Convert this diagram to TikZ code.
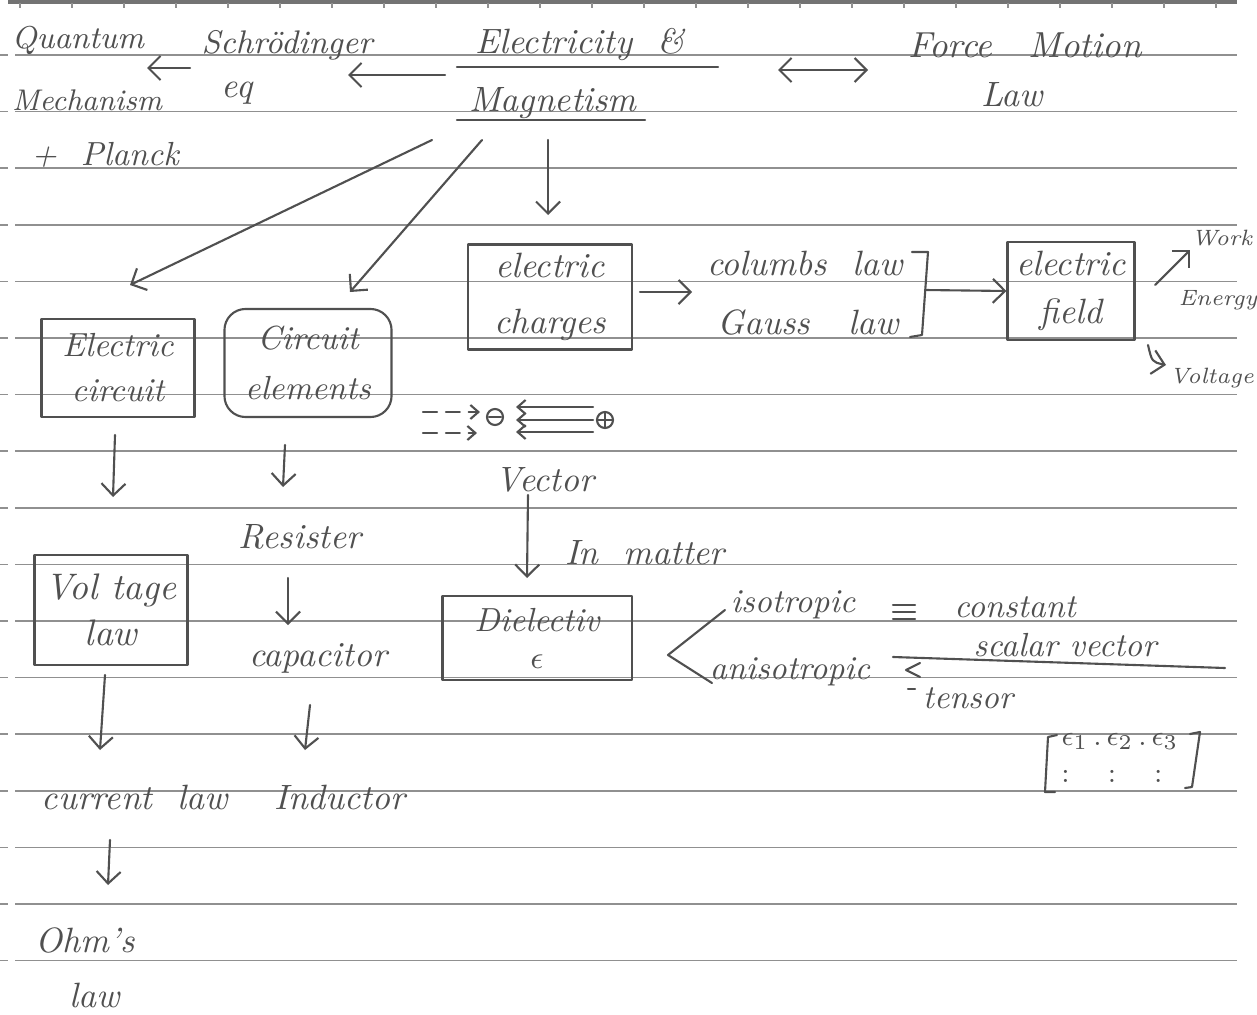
\documentclass[tikz,border=0pt]{standalone}
\usetikzlibrary{arrows.meta}
\definecolor{ink}{HTML}{505050}
\definecolor{paperline}{HTML}{909090}
\begin{document}
\begin{tikzpicture}[x=0.01cm,y=-0.01cm,
  hand/.style={text=ink, font=\fontsize{10}{16}\selectfont\itshape, inner sep=0pt, align=center},
  small/.style={hand, font=\fontsize{6.3}{8}\selectfont\itshape},
  pen/.style={draw=ink, line width=0.6pt, line cap=round, line join=round},
  arr/.style={pen, -{Straight Barb[length=1.2mm,width=2.4mm]}},
  sarr/.style={pen, -{Straight Barb[length=0.8mm,width=1.4mm]}},
  darr/.style={pen, {Straight Barb[length=1.2mm,width=2.4mm]}-{Straight Barb[length=1.2mm,width=2.4mm]}},
  hbox/.style={pen, inner sep=0pt, text=ink, font=\fontsize{10}{16}\selectfont\itshape, align=center},
  paper/.style={draw=paperline, line width=0.45pt}]
\useasboundingbox (0,0) rectangle (1257,1015);
\fill[white] (0,0) rectangle (1257,1015);
% ruled paper
\draw[draw=paperline!80!black, line width=1pt] (8,2) -- (1237,2);
\foreach \t in {0,...,23} \draw[paper] ({20+52*\t},3) -- ({20+52*\t},8);
\foreach \k in {0,...,16} {
  \draw[paper] (15,{55+56.6*\k}) -- (1237,{55+56.6*\k});
  \draw[paper] (0,{55+56.6*\k}) -- (8,{55+56.6*\k});
}

% top row
\node[hand, font=\fontsize{9}{16}\selectfont\itshape] (qm1) at (78,40) {Quantum};
\node[hand, font=\fontsize{8.5}{16}\selectfont\itshape] (qm2) at (87,100) {Mechanism};
\node[hand, font=\fontsize{9.5}{16}\selectfont\itshape] (planck) at (105,155) {+\ \ Planck};
\node[hand, font=\fontsize{9.3}{16}\selectfont\itshape] (schr) at (287,45) {Schrödinger};
\node[hand] (eq) at (237,93) {eq};
\node[hand] (em1) at (580,45) {Electricity\ \ \&};
\node[hand] (em2) at (553,103) {Magnetism};
\node[hand, font=\fontsize{10.3}{16}\selectfont\itshape] (fm1) at (1025,45) {Force\quad Motion};
\node[hand] (fm2) at (1012,95) {Law};
\draw[pen] (457,67) -- (718,67);
\draw[pen] (457,120) -- (645,120);

\coordinate (a1s) at (190,68); \coordinate (a1e) at (147,68);
\draw[arr] (a1s) -- (a1e);
\coordinate (a2s) at (445,75); \coordinate (a2e) at (348,75);
\draw[arr] (a2s) -- (a2e);
\coordinate (a3s) at (778,70); \coordinate (a3e) at (868,70);
\draw[darr] (a3s) -- (a3e);

% boxes
\node[hbox, draw, minimum width=1.53cm, minimum height=0.98cm, font=\fontsize{9.5}{12.8}\selectfont\itshape] (circ) at (118,368) {Electric\\circuit};
\node[hbox, draw, rounded corners=6pt, minimum width=1.67cm, minimum height=1.08cm, font=\fontsize{9.5}{14}\selectfont\itshape] (elem) at (308,363) {Circuit\\elements};
\node[hbox, draw, minimum width=1.64cm, minimum height=1.05cm] (chg) at (550,297) {electric\\charges};
\node[hbox, draw, minimum width=1.27cm, minimum height=0.98cm, font=\fontsize{10}{13.5}\selectfont\itshape] (fld) at (1071,291) {electric\\field};
\node[hbox, draw, minimum width=1.89cm, minimum height=0.84cm, font=\fontsize{9.5}{10.5}\selectfont\itshape] (diel) at (537,638) {Dielectiv\\$\epsilon$};
\node[hbox, draw, minimum width=1.53cm, minimum height=1.1cm, font=\fontsize{10.5}{13}\selectfont\itshape] (vlaw) at (111,610) {Vol tage\\law};

% from E&M
\coordinate (d1s) at (432,140); \coordinate (d1e) at (130,285);
\draw[arr] (d1s) -- (d1e);
\coordinate (d2s) at (482,140); \coordinate (d2e) at (350,292);
\draw[arr] (d2s) -- (d2e);
\coordinate (d3s) at (548,140); \coordinate (d3e) at (548,215);
\draw[arr] (d3s) -- (d3e);

% laws
\node[hand] (cl) at (805,263) {columbs\ \ law};
\node[hand] (gl) at (808,322) {Gauss\ \ \ law};
\coordinate (c1) at (640,292); \coordinate (c2) at (692,292);
\draw[arr] (c1) -- (c2);
\draw[pen] (912,252) -- (928,252) -- (922,335) -- (910,337);
\coordinate (br) at (925,290);
\draw[arr] (br) -- (fld.west);

\node[small] (work) at (1222,238) {Work};
\node[small] (energy) at (1218,300) {Energy};
\node[small] (volt) at (1212,378) {Voltage};
\coordinate (w1) at (1155,285); \coordinate (w2) at (1190,250);
\draw[arr] (w1) -- (w2);
\coordinate (v1) at (1148,345); \coordinate (v2) at (1166,365);
\draw[arr] (v1) .. controls (1152,362) .. (v2);

% charge sketch
\draw[pen] (495,417) circle (8);
\draw[pen] (489,417) -- (501,417);
\draw[pen] (605,420) circle (8);
\draw[pen] (597,420) -- (613,420) (605,412) -- (605,428);
\foreach \yy in {407,420,432} \draw[sarr] (593,\yy) -- (516,\yy);
\draw[sarr, dash pattern=on 4pt off 2.5pt] (423,412) -- (480,412);
\draw[sarr, dash pattern=on 4pt off 2.5pt] (423,433) -- (477,433);

\node[hand] (vec) at (545,480) {Vector};
\coordinate (vd1) at (528,495); \coordinate (vd2) at (527,578);
\draw[arr] (vd1) -- (vd2);
\node[hand] (inm) at (645,553) {In\ \ matter};

% isotropic / anisotropic
\draw[pen] (725,610) -- (668,655) -- (712,683);
\node[hand, font=\fontsize{9.5}{16}\selectfont\itshape] (iso) at (793,605) {isotropic};
\draw[pen] (893,605) -- (915,605) (893,612) -- (915,612) (893,619) -- (915,619);
\node[hand, font=\fontsize{9.5}{16}\selectfont\itshape] (const) at (1015,607) {constant};
\node[hand, font=\fontsize{9.5}{16}\selectfont\itshape] (scal) at (1065,645) {scalar\ vector};
\draw[pen] (893,657) -- (1225,668);
\node[hand, font=\fontsize{9.5}{16}\selectfont\itshape] (aniso) at (790,672) {anisotropic};
\draw[pen] (920,663) -- (906,670) -- (920,677);
\draw[pen] (908,689) -- (915,689);
\node[hand, font=\fontsize{9.5}{16}\selectfont\itshape] (tens) at (968,698) {tensor};
\draw[pen] (1057,735) -- (1048,737) -- (1045,792) -- (1055,792);
\draw[pen] (1190,734) -- (1200,732) -- (1192,787) -- (1185,788);
\node[hand, font=\fontsize{8}{10}\selectfont] (m1) at (1120,741) {$\epsilon_1\,.\,\epsilon_2\,.\,\epsilon_3$};
\node[hand, font=\fontsize{8}{10}\selectfont] (m2) at (1112,776) {$:\quad\ :\quad\ :$};

% left column
\coordinate (l1) at (115,435); \coordinate (l2) at (113,497);
\draw[arr] (l1) -- (l2);
\coordinate (l3) at (285,445); \coordinate (l4) at (283,487);
\draw[arr] (l3) -- (l4);
\node[hand] (res) at (300,537) {Resister};
\coordinate (l5) at (288,578); \coordinate (l6) at (288,625);
\draw[arr] (l5) -- (l6);
\node[hand] (cap) at (318,658) {capacitor};
\coordinate (l7) at (105,675); \coordinate (l8) at (100,750);
\draw[arr] (l7) -- (l8);
\coordinate (l9) at (310,705); \coordinate (l10) at (305,750);
\draw[arr] (l9) -- (l10);
\node[hand] (cur) at (135,797) {current\ \ law};
\node[hand] (ind) at (340,797) {Inductor};
\coordinate (l11) at (110,840); \coordinate (l12) at (108,885);
\draw[arr] (l11) -- (l12);
\node[hand] (ohm1) at (85,940) {Ohm's};
\node[hand] (ohm2) at (95,995) {law};
\end{tikzpicture}
\end{document}
